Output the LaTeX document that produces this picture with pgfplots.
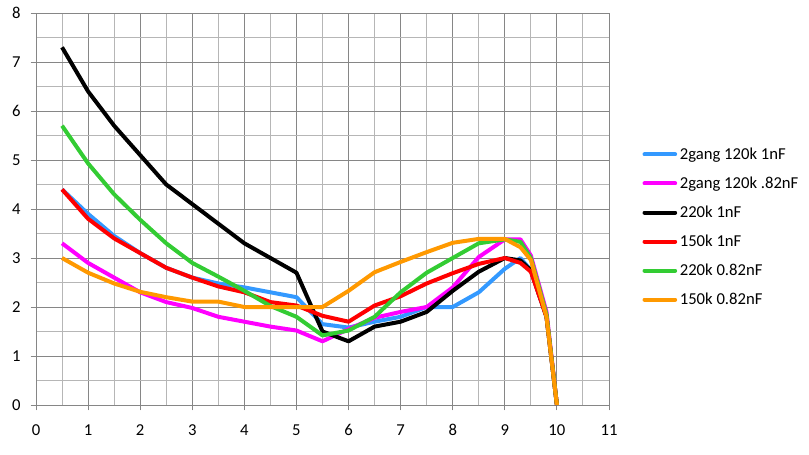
\documentclass[border=0pt]{standalone}
\usepackage{fontspec}
\setmainfont{Carlito}
\usepackage{pgfplots}
\pgfplotsset{compat=1.18}

\definecolor{cblue}{RGB}{51,153,255}
\definecolor{cmag}{RGB}{255,0,255}
\definecolor{cred}{RGB}{255,0,0}
\definecolor{cgreen}{RGB}{51,204,51}
\definecolor{corange}{RGB}{255,153,0}
\definecolor{gmajor}{RGB}{134,134,134}
\definecolor{gminor}{RGB}{182,182,182}

\begin{document}
\begin{tikzpicture}
\path[use as bounding box] (0,0) rectangle (606.75pt,340.5pt);
\begin{axis}[
	at={(27pt,36.75pt)}, anchor=south west,
	scale only axis,
	width=429.75pt, height=294pt,
	xmin=0, xmax=11, ymin=0, ymax=8,
	xtick={0,...,11}, ytick={0,...,8},
	minor x tick num=1, minor y tick num=1,
	grid=both,
	major grid style={gmajor, line width=0.75pt},
	minor grid style={gminor, line width=0.75pt},
	axis line style={gmajor, line width=0.75pt},
	tick pos=left, tick align=outside,
	major tick length=4pt, minor tick length=0pt,
	tick style={gmajor, line width=0.75pt},
	font=\fontsize{12.5pt}{15pt}\selectfont,
	/pgf/number format/assume math mode=true,
	xticklabel style={yshift=-7pt},
	yticklabel style={xshift=-4pt},
	every axis plot/.append style={line width=3pt, line join=round, mark=none},
	legend cell align=left,
	legend image code/.code={\draw[#1, line cap=round] (0pt,0pt) -- (23pt,0pt);},
	legend style={draw=none, fill=none, at={(1.058,0.454)}, anchor=west,
		font=\fontsize{12.5pt}{15pt}\selectfont, row sep=7.6pt, inner sep=0pt,
		/tikz/every even column/.append style={column sep=2pt}},
]
\addplot[cblue] coordinates {
(0.5,4.4) (1,3.9) (1.5,3.45) (2,3.1) (2.5,2.8) (3,2.6) (3.5,2.48) (4,2.4)
(4.5,2.3) (5,2.2) (5.5,1.65) (6,1.58) (6.5,1.7) (7,1.8) (7.5,2.0) (8,2.0)
(8.5,2.3) (9,2.78) (9.3,3.0) (9.5,2.75) (9.8,1.8) (10,0)};
\addlegendentry{2gang 120k 1nF}
\addplot[cmag] coordinates {
(0.5,3.3) (1,2.9) (1.5,2.6) (2,2.3) (2.5,2.1) (3,1.98) (3.5,1.8) (4,1.7)
(4.5,1.6) (5,1.52) (5.5,1.3) (6,1.55) (6.5,1.78) (7,1.9) (7.5,2.0) (8,2.4)
(8.5,3.02) (9,3.38) (9.3,3.38) (9.5,3.05) (9.8,1.9) (10,0)};
\addlegendentry{2gang 120k .82nF}
\addplot[black] coordinates {
(0.5,7.3) (1,6.4) (1.5,5.7) (2,5.1) (2.5,4.5) (3,4.1) (3.5,3.7) (4,3.3)
(4.5,3.0) (5,2.7) (5.5,1.5) (6,1.3) (6.5,1.6) (7,1.7) (7.5,1.9) (8,2.33)
(8.5,2.72) (9,3.0) (9.3,2.95) (9.5,2.75) (9.8,1.8) (10,0)};
\addlegendentry{220k 1nF}
\addplot[cred] coordinates {
(0.5,4.4) (1,3.8) (1.5,3.4) (2,3.1) (2.5,2.8) (3,2.6) (3.5,2.42) (4,2.3)
(4.5,2.1) (5,2.03) (5.5,1.82) (6,1.7) (6.5,2.03) (7,2.22) (7.5,2.48) (8,2.69)
(8.5,2.88) (9,3.0) (9.3,2.9) (9.5,2.72) (9.8,1.8) (10,0)};
\addlegendentry{150k 1nF}
\addplot[cgreen] coordinates {
(0.5,5.7) (1,4.93) (1.5,4.3) (2,3.78) (2.5,3.3) (3,2.9) (3.5,2.62) (4,2.33)
(4.5,2.02) (5,1.8) (5.5,1.42) (6,1.52) (6.5,1.8) (7,2.3) (7.5,2.7) (8,3.0)
(8.5,3.3) (9,3.38) (9.3,3.33) (9.5,3.0) (9.8,1.85) (10,0)};
\addlegendentry{220k 0.82nF}
\addplot[corange] coordinates {
(0.5,3.0) (1,2.7) (1.5,2.48) (2,2.31) (2.5,2.2) (3,2.11) (3.5,2.11) (4,2.0)
(4.5,2.0) (5,2.0) (5.5,2.0) (6,2.33) (6.5,2.71) (7,2.92) (7.5,3.12) (8,3.31)
(8.5,3.39) (9,3.39) (9.3,3.22) (9.5,2.96) (9.8,1.8) (10,0)};
\addlegendentry{150k 0.82nF}
\end{axis}
\end{tikzpicture}
\end{document}
